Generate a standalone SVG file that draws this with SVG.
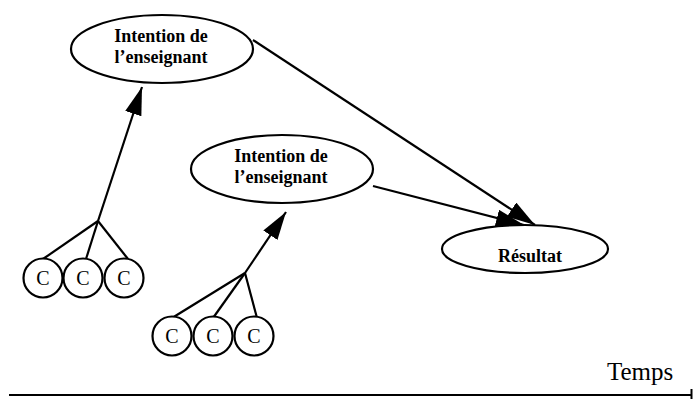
<svg xmlns="http://www.w3.org/2000/svg" width="693" height="399" viewBox="0 0 693 399">
<defs>
<marker id="ah" viewBox="0 0 28 17" refX="28" refY="8.5" markerWidth="28" markerHeight="17" markerUnits="userSpaceOnUse" orient="auto">
<path d="M0,0 L28,8.5 L0,17 Z" fill="#000"/>
</marker>
<style>
.sh{fill:#fff;stroke:#000;stroke-width:2.2}
.ln{stroke:#000;stroke-width:2.2;fill:none}
.tb{font-family:"Liberation Serif","Times New Roman",serif;font-weight:bold;font-size:18px;text-anchor:middle;fill:#000}
.tc{font-family:"Liberation Serif","Times New Roman",serif;font-size:20px;text-anchor:middle;fill:#000}
.tt{font-family:"Liberation Serif","Times New Roman",serif;font-size:25px;fill:#000}
</style>
</defs>
<rect width="693" height="399" fill="#fff"/>
<g id="connectors">
<line class="ln" x1="98" y1="221" x2="142" y2="87" marker-end="url(#ah)"/>
<line class="ln" x1="98" y1="221" x2="43" y2="259"/>
<line class="ln" x1="98" y1="221" x2="86" y2="259"/>
<line class="ln" x1="98" y1="221" x2="128" y2="259"/>
<line class="ln" x1="245" y1="273" x2="286" y2="212" marker-end="url(#ah)"/>
<line class="ln" x1="245" y1="273" x2="172" y2="318"/>
<line class="ln" x1="245" y1="273" x2="213" y2="318"/>
<line class="ln" x1="245" y1="273" x2="257" y2="318"/>
<line class="ln" x1="253" y1="40" x2="535" y2="225" marker-end="url(#ah)"/>
<line class="ln" x1="373" y1="186" x2="524" y2="225" marker-end="url(#ah)"/>
</g>
<g id="intention1">
<ellipse class="sh" cx="162" cy="49" rx="91" ry="34"/>
<text class="tb" x="161" y="42">Intention de</text>
<text class="tb" x="161" y="63">l’enseignant</text>
</g>
<g id="intention2">
<ellipse class="sh" cx="282" cy="169" rx="91" ry="34"/>
<text class="tb" x="281" y="162">Intention de</text>
<text class="tb" x="281" y="183">l’enseignant</text>
</g>
<g id="resultat">
<ellipse class="sh" cx="525" cy="249" rx="83" ry="24"/>
<text class="tb" x="530" y="262">Résultat</text>
</g>
<g id="c1"><circle class="sh" cx="43" cy="278" r="19.5"/><text class="tc" x="43" y="285">C</text></g>
<g id="c2"><circle class="sh" cx="83" cy="278" r="19.5"/><text class="tc" x="83" y="285">C</text></g>
<g id="c3"><circle class="sh" cx="124" cy="278" r="19.5"/><text class="tc" x="124" y="285">C</text></g>
<g id="c4"><circle class="sh" cx="172" cy="336" r="19.5"/><text class="tc" x="172" y="343">C</text></g>
<g id="c5"><circle class="sh" cx="213" cy="336" r="19.5"/><text class="tc" x="213" y="343">C</text></g>
<g id="c6"><circle class="sh" cx="254" cy="336" r="19.5"/><text class="tc" x="254" y="343">C</text></g>
<g id="axis">
<line class="ln" x1="9" y1="395" x2="691" y2="395"/>
<line x1="691.5" y1="389" x2="691.5" y2="399" stroke="#000" stroke-width="2"/>
<text class="tt" x="607" y="380">Temps</text>
</g>
</svg>
